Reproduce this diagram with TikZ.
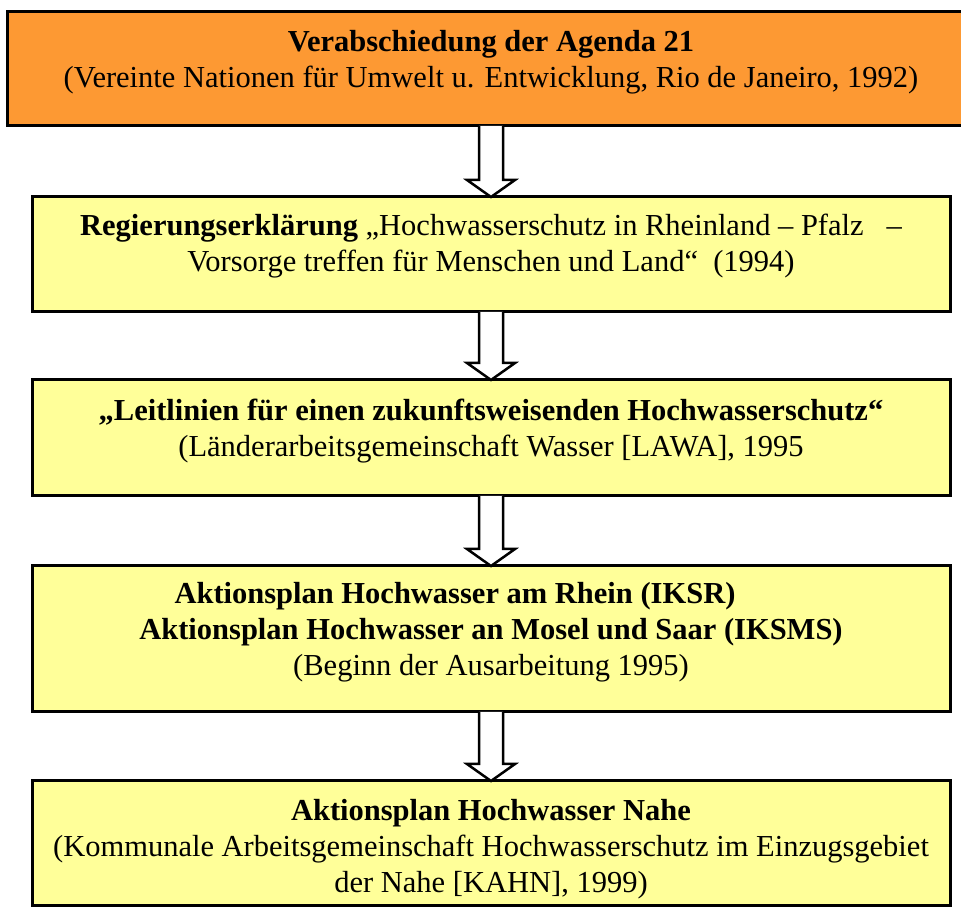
\documentclass[tikz,border=0pt]{standalone}
\usepackage{fontspec}
\setmainfont{Liberation Serif}
\usetikzlibrary{calc,positioning}

\definecolor{agendaorange}{RGB}{253,153,51}
\definecolor{stepyellow}{RGB}{255,255,153}

\begin{document}
\begin{tikzpicture}[x=1pt, y=1pt,
  stagebox/.style={draw=black, line width=3pt, outer sep=0pt, inner sep=0pt,
    minimum width=918pt},
  stagetext/.style={inner sep=0pt, anchor=north, align=center,
    font=\fontsize{30.5}{36}\selectfont},
  hollowarrow/.style={draw=black, fill=white, line width=2.5pt, line join=miter}]
  \useasboundingbox (0,0) rectangle (961,910);
  \node[stagebox, fill=agendaorange, minimum width=968pt, minimum height=114pt] (b1) at (491,841) {};
  \node[stagebox, fill=stepyellow, minimum height=115pt] (b2) at (491,655.5) {};
  \node[stagebox, fill=stepyellow, minimum height=116pt] (b3) at (491,472) {};
  \node[stagebox, fill=stepyellow, minimum height=146pt] (b4) at (491,271) {};
  \node[stagebox, fill=stepyellow, minimum height=125pt] (b5) at (491,66.5) {};
  % Texte
  \node[stagetext, below=18pt of b1.north] (t1)
    {\textbf{Verabschiedung der Agenda 21}\\
     (Vereinte Nationen für Umwelt u. Entwicklung, Rio de Janeiro, 1992)};
  \node[stagetext, below=17pt of b2.north] (t2)
    {\textbf{Regierungserklärung} „Hochwasserschutz in Rheinland – Pfalz\ \ \ –\\
     Vorsorge treffen für Menschen und Land“\ \ (1994)};
  \node[stagetext, below=19pt of b3.north] (t3)
    {\textbf{„Leitlinien für einen zukunftsweisenden Hochwasserschutz“}\\
     (Länderarbeitsgemeinschaft Wasser [LAWA], 1995};
  \node[stagetext, below=16pt of b4.north] (t4)
    {\textbf{Aktionsplan Hochwasser am Rhein (IKSR)}\hspace*{72pt}\\
     \textbf{Aktionsplan Hochwasser an Mosel und Saar (IKSMS)}\\
     (Beginn der Ausarbeitung 1995)};
  \node[stagetext, below=18pt of b5.north] (t5)
    {\textbf{Aktionsplan Hochwasser Nahe}\\
     (Kommunale Arbeitsgemeinschaft Hochwasserschutz im Einzugsgebiet\\
     der Nahe [KAHN], 1999)};
  % Blockpfeile
  \foreach \a/\b in {b1/b2, b2/b3, b3/b4, b4/b5}{
    \draw[hollowarrow] ($(\a.south)+(-12,0)$) -- ($(\b.north)+(-12,17)$)
      -- ($(\b.north)+(-24,17)$) -- (\b.north) -- ($(\b.north)+(24,17)$)
      -- ($(\b.north)+(12,17)$) -- ($(\a.south)+(12,0)$);
  }
\end{tikzpicture}
\end{document}
